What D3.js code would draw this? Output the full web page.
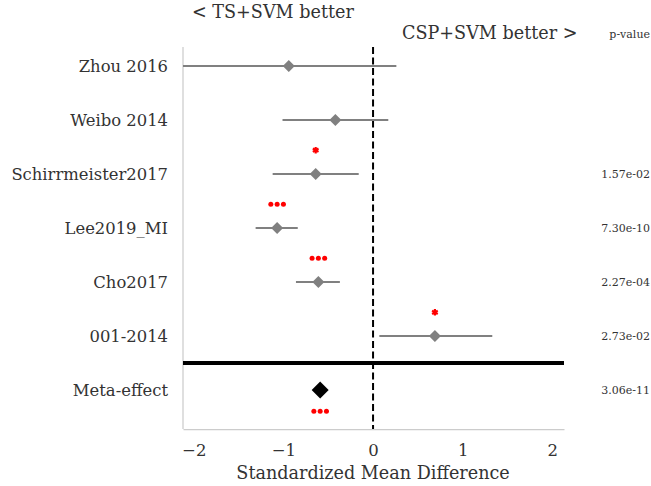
<!DOCTYPE html>
<html>
<head>
<meta charset="utf-8">
<script src="https://cdn.jsdelivr.net/npm/d3@7"></script>
<style>
  body { margin: 0; background: #fff; }
  svg { display: block; }
  text { font-family: "DejaVu Serif", serif; }
</style>
</head>
<body>
<svg id="chart" width="651" height="486"></svg>
<script>
// data
const studies = ["Zhou 2016", "Weibo 2014", "Schirrmeister2017", "Lee2019_MI", "Cho2017", "001-2014"];
const smd = [-0.94, -0.42, -0.64, -1.07, -0.61, 0.69];
const ciLow = [-2.3, -1.01, -1.12, -1.31, -0.86, 0.07];
const ciHigh = [0.26, 0.17, -0.16, -0.84, -0.37, 1.33];
const pValues = ["", "", "1.57e-02", "7.30e-10", "2.27e-04", "2.73e-02"];
const stars = ["", "", "*", "***", "***", "*"];
const metaLabel = "Meta-effect";
const metaSmd = -0.59;
const metaP = "3.06e-11";
const metaStars = "***";
const xTicks = [-2, -1, 0, 1, 2];

const svg = d3.select("#chart");
const plot = { left: 183, right: 564, top: 47, bottom: 429 };
const serif = "DejaVu Serif";

const x = d3.scaleLinear().domain([-2.12, 2.13]).range([plot.left, plot.right]);
const y = d3.scaleLinear().domain([-0.35, 6.72]).range([plot.top, plot.bottom]);

const rows = studies.map((s, i) => ({
  name: s, smd: smd[i], lo: ciLow[i], hi: ciHigh[i], p: pValues[i], stars: stars[i], row: i
}));
const metaRow = studies.length;

svg.append("defs").append("clipPath").attr("id", "clip")
  .append("rect")
  .attr("x", plot.left).attr("y", plot.top)
  .attr("width", plot.right - plot.left).attr("height", plot.bottom - plot.top);

// x axis (bottom spine + ticks)
const xAxis = d3.axisBottom(x).tickValues(xTicks).tickSize(0).tickSizeOuter(0).tickPadding(15)
  .tickFormat(d => d < 0 ? "\u2212" + Math.abs(d) : d);
const xg = svg.append("g")
  .attr("transform", `translate(0,${plot.bottom})`)
  .call(xAxis)
  .attr("font-family", serif)
  .attr("font-size", null);
xg.select(".domain").attr("stroke", "#cccccc").attr("stroke-width", 1.25);
xg.selectAll("text")
  .attr("fill", "#333")
  .style("font-family", serif)
  .style("font-size", "16.5px");

// left spine
svg.append("line")
  .attr("x1", plot.left).attr("x2", plot.left)
  .attr("y1", plot.top).attr("y2", plot.bottom)
  .attr("stroke", "#cccccc").attr("stroke-width", 1.25);

// y labels
svg.selectAll(".ylab")
  .data(studies.concat([metaLabel]))
  .enter().append("text")
  .attr("class", "ylab")
  .attr("x", 168)
  .attr("y", (d, i) => y(i))
  .attr("dy", "0.36em")
  .attr("text-anchor", "end")
  .attr("fill", "#333")
  .style("font-size", "16.4px")
  .text(d => d);

const g = svg.append("g").attr("clip-path", "url(#clip)");

// zero line
g.append("line")
  .attr("x1", x(0)).attr("x2", x(0))
  .attr("y1", plot.top).attr("y2", plot.bottom)
  .attr("stroke", "#000").attr("stroke-width", 2)
  .attr("stroke-dasharray", "7,3.5");

// separator before meta-effect
g.append("line")
  .attr("x1", plot.left).attr("x2", plot.right)
  .attr("y1", y(metaRow - 0.5)).attr("y2", y(metaRow - 0.5))
  .attr("stroke", "#000").attr("stroke-width", 4);

// confidence intervals
g.selectAll(".ci")
  .data(rows)
  .enter().append("line")
  .attr("class", "ci")
  .attr("x1", d => x(d.lo)).attr("x2", d => x(d.hi))
  .attr("y1", d => y(d.row)).attr("y2", d => y(d.row))
  .attr("stroke", "#808080").attr("stroke-width", 2);

const diamond = (cx, cy, r) => `M${cx},${cy - r}L${cx + r},${cy}L${cx},${cy + r}L${cx - r},${cy}Z`;

// study points
g.selectAll(".pt")
  .data(rows)
  .enter().append("path")
  .attr("class", "pt")
  .attr("d", d => diamond(x(d.smd), y(d.row), 6))
  .attr("fill", "#808080");

// meta effect
g.append("path")
  .attr("d", diamond(x(metaSmd), y(metaRow), 8.5))
  .attr("fill", "#000");

// significance markers
function drawStars(sel, n, cx, cy) {
  if (n === 1) {
    sel.append("path")
      .attr("d", d3.symbol(d3.symbolAsterisk, 30)())
      .attr("transform", `translate(${cx},${cy})`)
      .attr("stroke", "red").attr("stroke-width", 2.2).attr("fill", "red");
  } else {
    for (let k = 0; k < n; k++) {
      sel.append("circle")
        .attr("cx", cx + (k - (n - 1) / 2) * 6.3)
        .attr("cy", cy)
        .attr("r", 2.5)
        .attr("fill", "red");
    }
  }
}
rows.forEach(d => {
  if (d.stars) drawStars(g, d.stars.length, x(d.smd), y(d.row - 0.44));
});
drawStars(g, metaStars.length, x(metaSmd), y(metaRow + 0.39));

// p-values
svg.selectAll(".pval")
  .data(rows.filter(d => d.p))
  .enter().append("text")
  .attr("class", "pval")
  .attr("x", 650)
  .attr("y", d => y(d.row))
  .attr("dy", "0.36em")
  .attr("text-anchor", "end")
  .attr("fill", "#333")
  .style("font-size", "11px")
  .text(d => d.p);
svg.append("text")
  .attr("x", 650).attr("y", y(metaRow)).attr("dy", "0.36em")
  .attr("text-anchor", "end").attr("fill", "#333")
  .style("font-size", "11px")
  .text(metaP);
svg.append("text")
  .attr("x", 650).attr("y", 38)
  .attr("text-anchor", "end").attr("fill", "#333")
  .style("font-size", "11px")
  .text("p-value");

// direction labels
svg.append("text")
  .attr("x", 192).attr("y", 18)
  .attr("fill", "#333")
  .style("font-size", "17.6px")
  .text("< TS+SVM better");
svg.append("text")
  .attr("x", 402).attr("y", 39)
  .attr("fill", "#333")
  .style("font-size", "17.6px")
  .text("CSP+SVM better >");

// x label
svg.append("text")
  .attr("x", x(0)).attr("y", 479)
  .attr("text-anchor", "middle")
  .attr("fill", "#333")
  .style("font-size", "17.6px")
  .text("Standardized Mean Difference");
</script>
</body>
</html>
